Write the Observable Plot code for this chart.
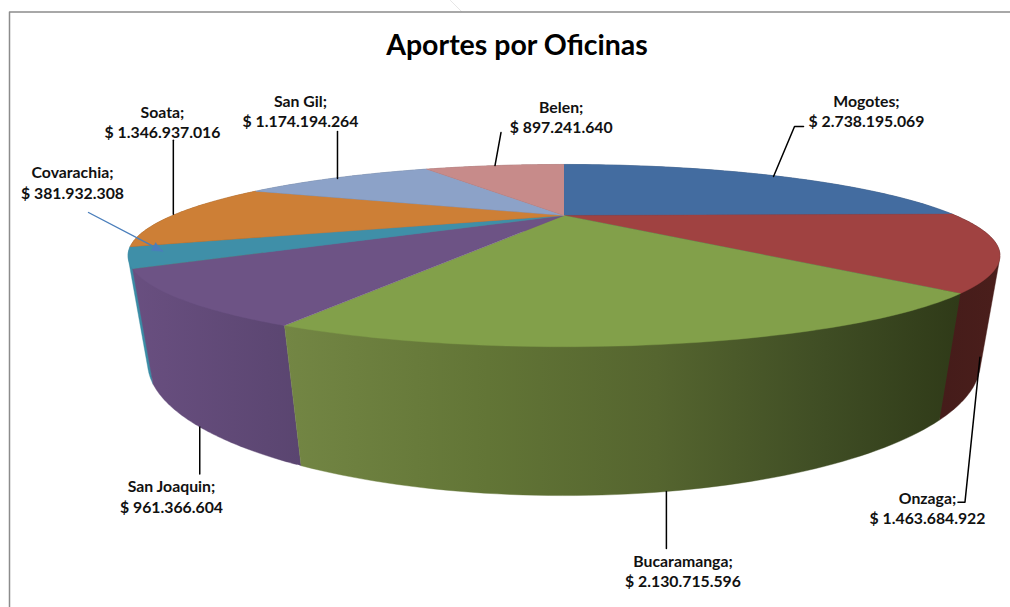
<!DOCTYPE html>
<html lang="es">
<head>
<meta charset="utf-8">
<title>Aportes por Oficinas</title>
<script src="https://cdn.jsdelivr.net/npm/d3@7"></script>
<script src="https://cdn.jsdelivr.net/npm/@observablehq/plot@0.6"></script>
<style>
html,body{margin:0;padding:0;background:#fff;overflow:hidden}
svg{display:block}
</style>
</head>
<body>
<div id="chart"></div>
<script>
// Data
const chartTitle = "Aportes por Oficinas";
const offices = ["Mogotes","Onzaga","Bucaramanga","San Joaquin","Covarachia","Soata","San Gil","Belen"];
const aportes = [2738195069,1463684922,2130715596,961366604,381932308,1346937016,1174194264,897241640];

// Styles
const topColors = ["#436ca0","#a04241","#82a04a","#6d5385","#3f8fa8","#cd7f36","#8ca2c8","#c78b8a"];
const wallFills = ["#2f4c70","url(#wallOnzaga)","url(#wallBuca)","url(#wallJoaquin)","#3a8ca5","#8f5826","#62718c","#8b6160"];

// Layout: label centre, leader offsets from the slice anchor, anchor on wall (1) or rim (0)
const labelX = [866,927,682.5,171,72,162,300,560.7];
const labelY = [109.7,506.7,569.7,495.2,181.2,120.7,109.7,115.7];
const leaderH = [0,1,1,1,0,0,0,0];
const leaderSteps = [
  [[1,1],[22,-49],[31,-49]],
  [[0,1],[-15,146],[-22,146]],
  [[0,0],[0,57]],
  [[0,0],[0,47]],
  [],
  [[-2,0],[-2,-74]],
  [[-1,1],[-1,-46]],
  [[0,0],[6,-33]]
];
const pointerFrom = {x: 88, y: 212}, pointerTo = {x: 162, y: 250.7};

// Perspective model of the disc
const cx = 563.5, cy = 215, A = 391.5, B = 73.5, k = 0.44, m = 0.038, C = 94;
const project = (theta, h) => {
  const u = Math.sin(theta), v = -Math.cos(theta), w = 1 - k * v + m * h;
  return {x: cx + A * u / w, y: cy + (B * v + C * h) / w};
};
const total = d3.sum(aportes);
const ends = d3.cumsum(aportes).map(c => c / total * 2 * Math.PI);
const starts = ends.map((e, i) => i ? ends[i - 1] : 0);
const arc = (a, b, h) => d3.range(0, 61).map(i => project(a + (b - a) * i / 60, h));

const money = d3.formatLocale({decimal: ",", thousands: ".", grouping: [3], currency: ["$ ", ""]}).format("$,d");
const labels = offices.map((o, i) => ({text: `${o};\n${money(aportes[i])}`, x: labelX[i], y: labelY[i]}));

const anchors = offices.map((_, i) => project((starts[i] + ends[i]) / 2, leaderH[i]));
const leaders = offices.map((_, i) => leaderSteps[i].map(([dx, dy]) => ({x: anchors[i].x + dx, y: anchors[i].y + dy})));

const order = d3.range(offices.length).sort((a, b) =>
  -Math.cos((starts[a] + ends[a]) / 2) - -Math.cos((starts[b] + ends[b]) / 2));

// A wall is the hull of its rim arc and its base arc, so the silhouette stays straight
const wall = i => d3.polygonHull([...arc(starts[i], ends[i], 0), ...arc(starts[i], ends[i], 1)].map(p => [p.x, p.y]))
  .map(([x, y]) => ({x, y}));

// Filled head of the Covarachia pointer
const head = (() => {
  const dx = pointerTo.x - pointerFrom.x, dy = pointerTo.y - pointerFrom.y, l = Math.hypot(dx, dy);
  const ux = dx / l, uy = dy / l, len = 10, half = 4.5;
  const bx = pointerTo.x - ux * len, by = pointerTo.y - uy * len;
  return [pointerTo, {x: bx - uy * half, y: by + ux * half}, {x: bx + uy * half, y: by - ux * half}];
})();

const gradient = (id, x1, x2, stops) => {
  const g = d3.create("svg:linearGradient").attr("id", id).attr("gradientUnits", "userSpaceOnUse")
    .attr("x1", x1).attr("x2", x2).attr("y1", 0).attr("y2", 0);
  stops.forEach(([o, c]) => g.append("stop").attr("offset", o).attr("stop-color", c));
  return g.node();
};
const defs = () => {
  const d = d3.create("svg:defs");
  d.append(() => gradient("wallBuca", 285, 960, [[0,"#738644"],[0.3,"#627536"],[0.55,"#55652f"],[0.8,"#3f4d24"],[1,"#2f3a18"]]));
  d.append(() => gradient("wallJoaquin", 130, 300, [[0,"#694f80"],[1,"#5a4570"]]));
  d.append(() => gradient("wallOnzaga", 940, 1000, [[0,"#451c1a"],[1,"#4a1e1b"]]));
  return d.node();
};

const line = (pts, o) => Plot.line(pts, {x: "x", y: "y", ...o});
const plot = Plot.plot({
  width: 1010, height: 607,
  margin: 0,
  axis: null,
  x: {domain: [0, 1010], range: [0, 1010]},
  y: {domain: [0, 607], range: [0, 607]},
  marks: [
    defs,
    line([{x: 450, y: 0}, {x: 461, y: 11}], {stroke: "#e6e6e6", strokeWidth: 1}),
    line([{x: 9, y: 607}, {x: 9, y: 11.5}, {x: 1010, y: 11.5}], {stroke: "#8c8c8c", strokeWidth: 1.5}),
    // walls, back to front
    ...order.map(i => line(wall(i), {fill: wallFills[i], stroke: wallFills[i], strokeWidth: 0.4})),
    // top face
    ...offices.map((_, i) => line([{x: cx, y: cy}, ...arc(starts[i], ends[i], 0)],
      {fill: topColors[i], stroke: topColors[i], strokeWidth: 0.4})),
    // leaders
    ...leaders.filter(l => l.length).map(l => line(l, {stroke: "#000", strokeWidth: 1.5})),
    line([pointerFrom, pointerTo], {stroke: "#4a7ebb", strokeWidth: 1.4}),
    line(head, {fill: "#4a7ebb", stroke: "#4a7ebb", strokeWidth: 0.5}),
    // texts
    Plot.text(labels, {x: "x", y: "y", text: "text", fontFamily: "Lato", fontWeight: 700, fontSize: 15.8, lineHeight: 1.3, fill: "#111", textAnchor: "middle"}),
    Plot.text([chartTitle], {x: () => 516.5, y: () => 45.5, text: d => d, fontFamily: "Lato", fontWeight: 700, fontSize: 28.5, fill: "#000", textAnchor: "middle"})
  ]
});
document.getElementById("chart").append(plot);
</script>
</body>
</html>
